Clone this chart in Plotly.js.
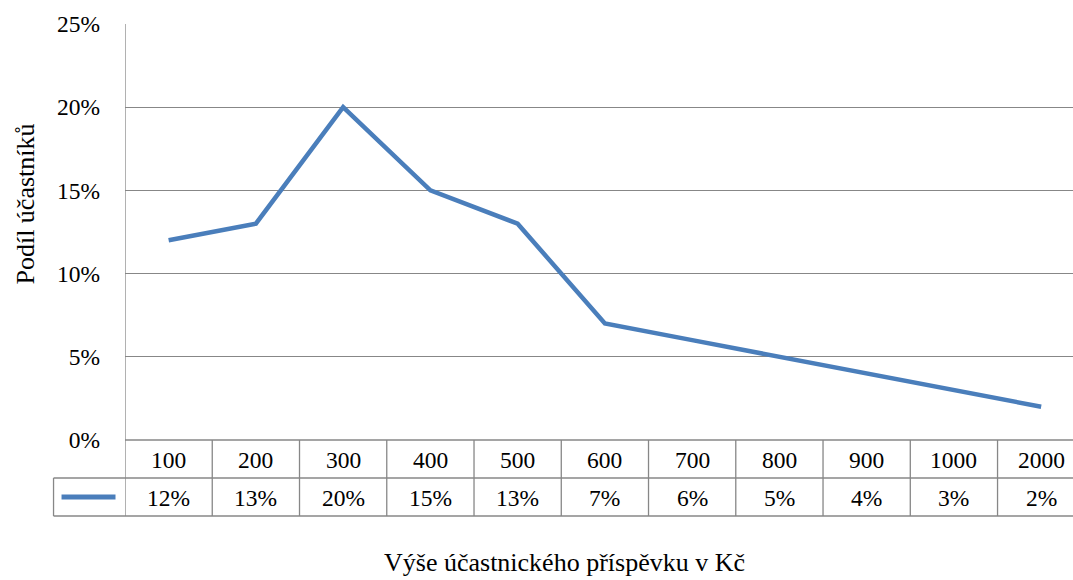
<!DOCTYPE html>
<html>
<head>
<meta charset="utf-8">
<script src="https://cdn.plot.ly/plotly-3.0.1.min.js"></script>
<style>html,body{margin:0;padding:0;background:#fff;}#chart{width:1073px;height:580px;}</style>
</head>
<body>
<div id="chart"></div>
<script>
const categories = ['100','200','300','400','500','600','700','800','900','1000','2000'];
const shares = [12, 13, 20, 15, 13, 7, 6, 5, 4, 3, 2];
const yTicks = [0, 5, 10, 15, 20, 25];
const yTickLabels = ['0%', '5%', '10%', '15%', '20%', '25%'];
const xTitle = 'Výše účastnického příspěvku v Kč';
const yTitle = 'Podíl účastníků';

const W = 1073, H = 580;
const L = 124.5, T = 24, B = 440, R = W;
const pw = R - L, ph = B - T;
const px = v => (v - L) / pw;
const py = v => (B - v) / ph;
const catW = 87.3;
const grid = '#878787';
const blue = '#4a7ebb';
const font = 'Liberation Serif, Times New Roman, serif';
const fs = 23.5;
const tfs = 26;

const shapes = [];
const lineS = (x0, y0, x1, y1) => shapes.push({type:'line', xref:'paper', yref:'paper', x0, y0, x1, y1, line:{color:grid, width:1.3}, layer:'above'});
lineS(px(L), py(B), 1, py(B));
lineS(px(53), py(478), 1, py(478));
lineS(px(53), py(516), 1, py(516));
lineS(px(53), py(478), px(53), py(516));
for (let i = 0; i <= categories.length; i++) {
  shapes.push({type:'line', xref:'x', yref:'paper', x0:i-0.5, x1:i-0.5, y0:py(516), y1: i===0 ? 1 : py(B), line:{color:grid, width:1.3}, layer:'above'});
}
shapes.push({type:'line', xref:'paper', yref:'paper', x0:px(61), x1:px(115), y0:py(497), y1:py(497), line:{color:blue, width:5}});

const annotations = [];
categories.forEach((c, i) => {
  annotations.push({xref:'x', yref:'paper', x:i, y:py(460), text:c, showarrow:false, font:{family:font, size:fs, color:'#000'}, yanchor:'middle', xanchor:'center'});
  annotations.push({xref:'x', yref:'paper', x:i, y:py(498), text:shares[i] + '%', showarrow:false, font:{family:font, size:fs, color:'#000'}, yanchor:'middle', xanchor:'center'});
});
annotations.push({xref:'paper', yref:'paper', x:px(564), y:py(562), text:xTitle, showarrow:false, font:{family:font, size:tfs, color:'#000'}, xanchor:'center', yanchor:'middle'});
annotations.push({xref:'paper', yref:'paper', x:px(24), y:py(204), text:yTitle, textangle:-90, showarrow:false, font:{family:font, size:tfs, color:'#000'}, xanchor:'center', yanchor:'middle'});

const trace = {
  x: categories.map((c, i) => i), y: shares, type:'scatter', mode:'lines',
  line:{color:blue, width:4.5, shape:'linear'},
  text: categories, hoverinfo:'text+y'
};

const layout = {
  width: W, height: H,
  margin:{l:L, r:0, t:T, b:H-B, pad:0},
  paper_bgcolor:'#fff', plot_bgcolor:'#fff',
  showlegend:false,
  font:{family:font, size:fs, color:'#000'},
  xaxis:{type:'linear', range:[-0.5, -0.5 + pw / catW], showticklabels:false, showgrid:false, zeroline:false, showline:false, ticks:'', fixedrange:true},
  yaxis:{range:[0, 25], tickvals:yTicks, ticktext:yTickLabels, showgrid:true, gridcolor:grid, gridwidth:1.3, zeroline:false, showline:false, ticks:'', ticklabelstandoff:24, tickfont:{family:font, size:fs, color:'#000'}, fixedrange:true},
  shapes, annotations
};

Plotly.newPlot('chart', [trace], layout, {displayModeBar:false, staticPlot:true});
</script>
</body>
</html>
